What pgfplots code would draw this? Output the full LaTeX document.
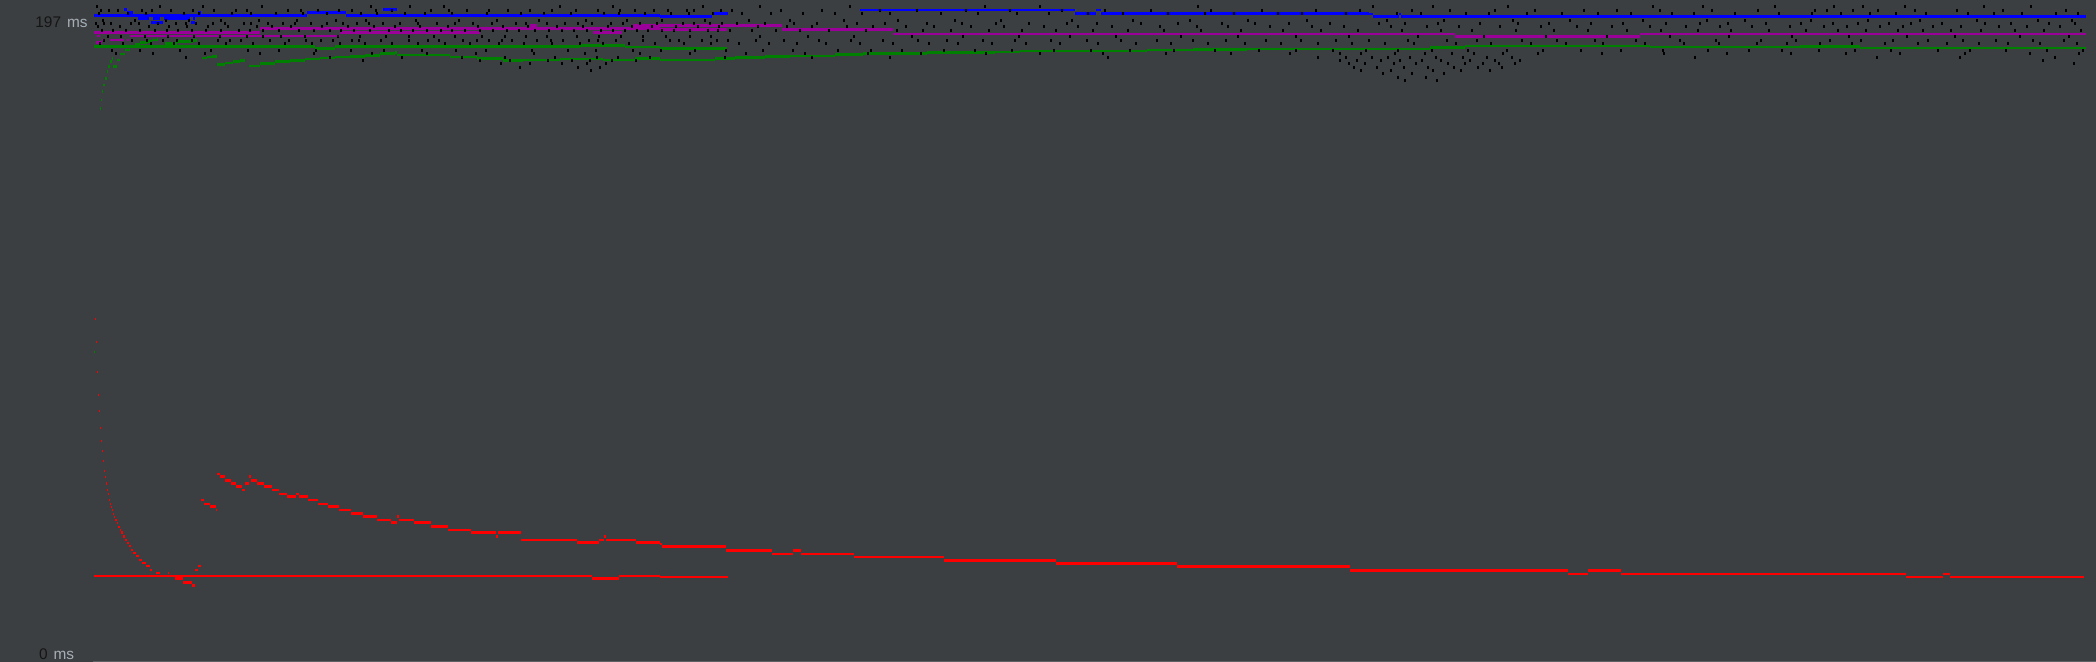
\documentclass[border=0pt]{standalone}
\usepackage{pgfplots}
\pgfplotsset{compat=1.18}
\usepackage{pgfplotstable}
\usepackage{fontspec}
\setmainfont{Liberation Sans}
\definecolor{bg}{HTML}{3C3F41}
\definecolor{cblue}{HTML}{0000FF}
\definecolor{cmag}{HTML}{9B009B}
\definecolor{cgreen}{HTML}{008000}
\definecolor{cred}{HTML}{FF0000}
\definecolor{numc}{HTML}{151515}
\definecolor{unitc}{HTML}{A6AEB6}
\definecolor{edge}{HTML}{5E6163}
\pgfplotstableread{
x y
97 195
160 195
203 195
262 195
371 195
410 195
444 195
560 195
613 195
703 195
760 195
850 195
985 195
1040 195
1198 195
1373 195
1433 195
1508 195
1653 195
1703 195
1775 195
1834 195
1863 195
1905 195
1984 195
2031 195
101 194
118 194
142 194
171 194
214 194
236 194
288 194
318 194
352 194
392 194
431 194
467 194
508 194
552 194
598 194
635 194
668 194
694 194
732 194
781 194
822 194
880 194
917 194
966 194
1010 194
1062 194
1105 194
1151 194
1211 194
1262 194
1316 194
1360 194
1412 194
1450 194
1495 194
1535 194
1584 194
1617 194
1660 194
1712 194
1758 194
1815 194
1827 194
1853 194
1878 194
1915 194
1957 194
2003 194
2066 194
109 194
152 194
193 194
247 194
301 194
339 194
376 194
449 194
489 194
530 194
576 194
620 194
654 194
687 194
721 194
99 193
128 193
146 193
184 193
199 193
232 193
251 193
276 193
303 193
327 193
361 193
377 193
405 193
425 193
452 193
487 193
521 193
544 193
571 193
604 193
619 193
645 193
671 193
689 193
713 193
742 193
771 193
803 193
835 193
862 193
890 193
941 193
978 193
1017 193
1049 193
1088 193
1123 193
1168 193
1205 193
1234 193
1278 193
1302 193
1346 193
1397 193
1421 193
1466 193
1489 193
1527 193
1562 193
1598 193
1631 193
1672 193
1694 193
1735 193
1779 193
1812 193
1841 193
1870 193
1896 193
1926 193
1968 193
1994 193
2022 193
2056 193
2078 193
103 191
135 191
166 191
189 191
221 191
259 191
297 191
336 191
366 191
416 191
459 191
497 191
539 191
586 191
627 191
662 191
705 191
749 191
790 191
844 191
898 191
955 191
1001 191
1072 191
1133 191
1190 191
1248 191
1307 191
1387 191
1444 191
1513 191
1570 191
1643 191
1707 191
1745 191
1811 191
1868 191
1920 191
1977 191
2038 191
2072 191
96 190
111 190
139 190
158 190
176 190
196 190
225 190
244 190
268 190
283 190
311 190
343 190
357 190
383 190
400 190
437 190
473 190
492 190
516 190
547 190
565 190
592 190
611 190
640 190
657 190
683 190
722 190
737 190
765 190
794 190
817 190
857 190
885 190
927 190
962 190
996 190
1029 190
1067 190
1097 190
1141 190
1178 190
1222 190
1255 190
1289 190
1330 190
1379 190
1405 190
1438 190
1480 190
1518 190
1549 190
1591 190
1623 190
1666 190
1700 190
1728 190
1766 190
1801 190
1833 190
1858 190
1889 190
1911 190
1942 190
1985 190
2011 190
2049 190
2075 190
104 190
131 190
186 190
213 190
251 190
295 190
327 190
369 190
418 190
455 190
526 190
578 190
623 190
694 190
710 190
98 189
120 189
149 189
169 189
187 189
208 189
228 189
257 189
272 189
291 189
322 189
348 189
374 189
395 189
420 189
448 189
478 189
503 189
528 189
557 189
583 189
608 189
632 189
652 189
676 189
698 189
719 189
758 189
787 189
812 189
847 189
873 189
906 189
934 189
971 189
1004 189
1044 189
1078 189
1112 189
1160 189
1197 189
1228 189
1270 189
1312 189
1344 189
1391 189
1427 189
1459 189
1500 189
1541 189
1577 189
1612 189
1650 189
1686 189
1720 189
1752 189
1790 189
1824 189
1847 189
1880 189
1903 189
1933 189
1961 189
1999 189
2027 189
2060 189
102 188
126 188
155 188
178 188
206 188
239 188
263 188
299 188
330 188
354 188
389 188
413 188
441 188
465 188
493 188
519 188
549 188
574 188
601 188
625 188
648 188
674 188
708 188
730 188
752 188
776 188
800 188
829 188
866 188
897 188
923 188
951 188
989 188
1022 188
1056 188
1093 188
1128 188
1164 188
1201 188
1241 188
1283 188
1321 188
1358 188
1402 188
1441 188
1472 188
1516 188
1554 188
1588 188
1627 188
1661 188
1698 188
1731 188
1769 188
1806 188
1838 188
1866 188
1898 188
1923 188
1951 188
1981 188
2015 188
2044 188
2081 188
113 188
140 188
167 188
192 188
221 188
250 188
279 188
314 188
341 188
370 188
401 188
427 188
452 188
480 188
507 188
535 188
562 188
587 188
613 188
637 188
662 188
690 188
718 188
108 186
145 186
194 186
247 186
281 186
338 186
386 186
434 186
482 186
526 186
577 186
621 186
666 186
711 186
760 186
808 186
854 186
912 186
963 186
1019 186
1070 186
1116 186
1181 186
1238 186
1296 186
1349 186
1418 186
1484 186
1546 186
1607 186
1670 186
1729 186
1792 186
1849 186
1907 186
1955 186
2020 186
2069 186
121 186
168 186
220 186
263 186
305 186
360 186
409 186
455 186
505 186
547 186
599 186
643 186
690 186
104 185
132 185
163 185
192 185
218 185
241 185
270 185
306 185
333 185
359 185
381 185
409 185
439 185
463 185
489 185
512 185
537 185
563 185
589 185
616 185
643 185
679 185
702 185
728 185
756 185
784 185
819 185
851 185
883 185
918 185
947 185
983 185
1015 185
1051 185
1087 185
1121 185
1157 185
1193 185
1226 185
1266 185
1301 185
1336 185
1369 185
1408 185
1447 185
1477 185
1522 185
1557 185
1595 185
1636 185
1680 185
1716 185
1761 185
1796 185
1830 185
1861 185
1893 185
1928 185
1963 185
1996 185
2033 185
2064 185
147 185
177 185
230 185
289 185
321 185
352 185
428 185
477 185
502 185
551 185
598 185
670 185
717 185
100 184
123 184
151 184
174 184
199 184
226 184
253 184
285 184
312 184
340 184
365 184
392 184
418 184
445 184
470 184
499 184
524 184
552 184
580 184
603 184
629 184
655 184
684 184
711 184
739 184
769 184
797 184
826 184
860 184
893 184
929 184
958 184
992 184
1026 184
1060 184
1098 184
1136 184
1171 184
1208 184
1245 184
1281 184
1318 184
1352 184
1385 184
1414 184
1456 184
1491 184
1531 184
1566 184
1603 184
1645 184
1684 184
1719 184
1757 184
1787 184
1820 184
1852 184
1885 184
1918 184
1947 184
1979 184
2008 184
2040 184
2077 184
112 182
140 182
180 182
211 182
248 182
279 182
316 182
351 182
384 182
422 182
456 182
486 182
532 182
568 182
596 182
633 182
661 182
695 182
726 182
763 182
793 182
838 182
871 182
902 182
944 182
975 182
1012 182
1054 182
1091 182
1130 182
1174 182
1215 182
1259 182
1296 182
1333 182
1366 182
1398 182
1432 182
1468 182
1507 182
1543 182
1581 182
1621 182
1663 182
1708 182
1749 182
1782 182
1819 182
1855 182
1891 182
1938 182
1970 182
2006 182
2047 182
2083 182
116 181
153 181
205 181
260 181
314 181
372 181
427 181
476 181
534 181
585 181
640 181
690 181
746 181
805 181
868 181
921 181
986 181
1040 181
1103 181
1166 181
1231 181
1290 181
1340 181
1361 181
1395 181
1425 181
1452 181
1474 181
1503 181
1538 181
1602 181
1664 181
1727 181
1791 181
1846 181
1900 181
1965 181
2030 181
2079 181
186 180
330 180
402 180
462 180
505 180
555 180
597 180
618 180
650 180
725 180
812 180
890 180
1108 180
1318 180
1346 180
1372 180
1388 180
1410 180
1436 180
1463 180
1487 180
1512 180
1695 180
1877 180
1960 180
2055 180
363 179
480 179
510 179
548 179
572 179
590 179
612 179
636 179
1340 179
1357 179
1381 179
1400 179
1422 179
1441 179
1470 179
1495 179
1520 179
2043 179
501 178
530 178
562 178
587 178
606 178
1349 178
1365 178
1394 178
1416 178
1448 178
1465 178
1483 178
1499 178
1515 178
2074 178
520 177
578 177
600 177
1354 177
1377 177
1404 177
1428 177
1454 177
1478 177
1502 177
591 176
1361 176
1391 176
1433 176
1461 176
1490 176
1383 175
1412 175
1444 175
1398 174
1426 174
1405 173
1437 173
}\scatterdata
\begin{document}
\begin{tikzpicture}
\begin{axis}[
  scale only axis, width=1048pt, height=331pt,
  xmin=0, xmax=2096, ymin=-0.3, ymax=197,
  axis line style={draw=none},
  xtick=\empty, ytick=\empty,
  axis background/.style={fill=bg},
  unbounded coords=jump,
  clip=true,
  every axis plot/.append style={line width=1.35pt, jump mark left},
]
% black samples
\addplot[only marks, mark=|, mark size=0.75pt, black, mark options={line width=0.7pt}] table[x=x, y=y] {\scatterdata};

% green A (first run)
\addplot[cgreen] coordinates {(94,183.1) (315,182.6) (335,183.1) (580,183.4) (625,183.0) (660,182.6) (727,182.6)};
% green B (second run)
\addplot[cgreen] coordinates {
(94,92.1) (95,92.1) (95,nan)
(100,164.7) (101,167.2) (102.3,169.7) (103.3,171.7) (105,173.7) (106.7,175.6) (108.3,177.1) (110,178.7) (111.7,179.6) (113,179.6) (113,nan)
(113.3,177.1) (116.7,179.1) (120,180.9) (125,182.1) (130,183.1) (135,183.8) (140,184.3) (146.7,184.7) (152,185.1) (157,185.3) (158,185.3) (158,nan)
(165,184.1) (176.7,184.6) (193.3,184.9) (197,184.9) (197,nan)
(202,179.7) (207,180.0) (212,180.2) (217,180.3) (217,nan)
(217,177.7) (225,178.2) (233,178.7) (240,179.0) (245,179.3) (245,nan)
(249,177.3) (260,178.0) (275,178.6) (290,179.0) (305,179.4) (320,179.7) (335,180.0) (350,180.1) (365,180.5) (380,181.0) (395,181.4)
(397,180.6) (450,180.0) (477,179.6) (503,179.0) (523,179.1) (560,179.4) (603,179.1) (635,179.6) (660,179.1) (715,179.5) (735,179.8)
(765,180.1) (790,180.3) (835,180.8) (863,181.1) (927,181.3) (995,181.5) (1020,181.8) (1147,182.1) (1193,182.2) (1247,182.4)
(1430,182.9) (1465,183.3) (1650,183.0) (1800,183.1) (1860,182.7) (2086,182.7)};

% magenta A
\addplot[cmag] coordinates {(94,187.3) (260,188.5) (660,188.1) (727,188.1)};
% magenta B
\addplot[cmag] coordinates {
(95.7,184.4) (101.7,184.4) (101.7,nan)
(96.7,186.3) (100,186.3) (100,nan)
(101.7,185.1) (103.3,185.1) (103.3,nan)
(110,185.1) (124,185.1) (124,nan)
(126.7,185.1) (129.3,185.1) (129.3,nan)
(130,186.3) (340,187.3) (480,187.3) (480,nan)
(530,189.3) (537,189.3) (537,nan)
(593,187.3) (622,187.3) (622,nan)
(633,189.3) (782,188.1) (893,186.9) (1455,186.1) (1640,186.9) (2086,186.9)};

% blue A
\addplot[cblue] coordinates {(94,192.3) (307,193.2) (346,192.3) (660,192.0) (712,193.0) (728,193.0)};
% blue B
\addplot[cblue] coordinates {
(124,194.2) (127,193.2) (133,193.2) (133,nan)
(198,193.2) (201,193.2) (201,nan)
(138,191.4) (149,191.4) (149,nan)
(153,191.4) (160,191.4) (160,nan)
(164,191.4) (190,191.4) (190,nan)
(193,191.4) (195,191.4) (195,nan)
(151,190.2) (163,190.2) (163,nan)
(191,190.2) (195,190.2) (195,nan)
(383,194.2) (397,194.2) (397,nan)
(860,194.0) (1075,193.0) (1096,194.0) (1101,193.0) (1369,192.8) (1373,192.0) (1399,192.8) (1401,192.0) (2086,192.0)};

% red A
\addplot[cred] coordinates {(94,25.3) (592,24.5) (619,25.3) (660,25.0) (728,25.0)};
% red B
\addplot[cred] coordinates {
(95.3,101.9) (96.3,95.1) (97.3,86.1) (98.3,79.3) (99.3,74.5) (100.3,69.4) (101.3,65.6) (102.3,62.6) (103.3,59.6) (104.3,56.6)
(105.3,54.8) (106.3,52.8) (107.3,51.0) (108.3,49.8) (109.3,48.0) (110.3,46.8) (111.3,45.9) (112.3,45.0) (113.3,43.8) (114.3,42.9)
(115.3,42.0) (116.7,41.1) (118.3,39.9) (120,39.0) (121.3,38.2) (122.7,37.0) (124.7,36.1) (126.7,35.2) (128.7,34.3) (130.7,33.1)
(133.3,32.2) (136,31.3) (139.3,30.1) (142.3,29.2) (146,28.3) (150,27.1) (152,27.1) (152,nan)
(156,26.2) (160,26.2) (160,nan)
(168,26.2) (169,26.2) (169,nan)
(175,24.5) (183,23.3) (192,22.4) (195,27.1) (198,28.3) (201.3,48.0) (204,46.8) (210,46.0) (216,45.0)
(217.3,55.7) (220,54.9) (225,53.7) (231,52.8) (236,52.0) (242,51.0) (245,52.8) (249,54.9) (251,53.7) (257,52.8)
(264,51.9) (272,51.0) (279,49.8) (287,49.0) (296,49.8) (299,49.0) (308,48.0) (318,46.8) (328,46.0) (339,45.0)
(351,44.0) (363,43.0) (377,42.0) (391,41.2) (397,43.0) (399,42.0) (414,41.2) (431,40.0) (448,39.0) (471,38.2)
(496,37.0) (498,38.2) (521,36.1) (577,35.3) (599,36.1) (604,37.0) (606,36.1) (636,35.3) (660,34.9) (662,34.1)
(726,32.9) (772,31.9) (793,32.9) (801,31.9) (854,31.0) (944,29.9) (1056,29.0) (1177,28.1) (1350,26.9) (1568,25.9)
(1588,26.9) (1621,25.9) (1906,25.0) (1943,25.9) (1950,25.0) (2084,25.0)};

\draw[edge, line width=0.5pt] (axis cs:93,-0.15) -- (axis cs:2096,-0.15);
\node[anchor=base west, inner sep=0pt, font=\fontsize{7.7}{9}\selectfont] at (axis cs:35,188.9) {\textcolor{numc}{197}\hspace{3pt}\textcolor{unitc}{ms}};
\node[anchor=base west, inner sep=0pt, font=\fontsize{7.7}{9}\selectfont] at (axis cs:38.7,0.3) {\textcolor{numc}{0}\hspace{3pt}\textcolor{unitc}{ms}};
\end{axis}
\end{tikzpicture}
\end{document}
